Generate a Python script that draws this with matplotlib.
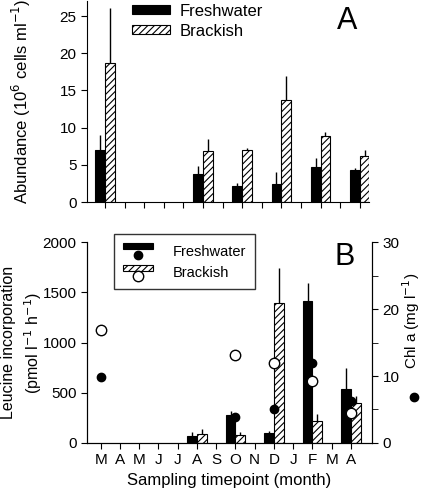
import numpy as np
import matplotlib
matplotlib.use("Agg")
import matplotlib.pyplot as plt
from matplotlib.patches import Rectangle
from matplotlib.lines import Line2D
from matplotlib.legend_handler import HandlerBase

plt.rcParams["font.family"] = ["Liberation Sans", "DejaVu Sans"]
plt.rcParams["hatch.linewidth"] = 0.8

# ── Data ─────────────────────────────────────────────────────────────────────
months = ["M", "A", "M", "J", "J", "A", "S", "O", "N", "D", "J", "F", "M", "A"]

# panel A: abundance (10^6 cells/ml), sampled months given as index into months
abund_idx = [0, 5, 7, 9, 11, 13]
abund_fresh = [6.95, 3.75, 2.2, 2.4, 4.7, 4.3]
abund_fresh_err = [2.05, 1.15, 0.3, 1.6, 1.2, 0.25]
abund_brack = [18.7, 6.9, 7.05, 13.7, 8.9, 6.2]
abund_brack_err = [7.4, 1.6, 0.25, 3.3, 0.5, 0.8]

# panel B: leucine incorporation (pmol/l/h)
leu_idx = [5, 7, 9, 11, 13]
leu_fresh = [66, 275, 100, 1416, 537]
leu_fresh_err = [44, 45, 20, 173, 213]
leu_brack = [90, 83, 1396, 216, 395]
leu_brack_err = [50, 30, 345, 76, 69]

# panel B: chl a (mg/l), right axis
chl_idx = [0, 7, 9, 11, 13]
chl_fresh = [9.85, 3.9, 5.0, 12.0, 6.2]
chl_brack = [16.8, 13.2, 12.0, 9.3, 4.5]

W = 0.5
BRACK = dict(facecolor="white", edgecolor="black", hatch="/////", linewidth=0.8)


class BarDotHandler(HandlerBase):
    # legend key: bar on top, marker underneath
    def create_artists(self, legend, orig_handle, xdescent, ydescent,
                       width, height, fontsize, trans):
        bar_kw, mfc = orig_handle
        r = Rectangle((-xdescent, -ydescent + height * 0.62), width, height * 0.36,
                      transform=trans, **bar_kw)
        m = Line2D([-xdescent + width / 2], [-ydescent + height * 0.28], marker="o",
                   markersize=7.5 if mfc == "white" else 6, markerfacecolor=mfc,
                   markeredgecolor="black", linestyle="none", transform=trans)
        return [r, m]


fig = plt.figure(figsize=(4.25, 4.96), dpi=100)
axA = fig.add_axes([0.2047, 0.5927, 0.6633, 0.405])
axB = fig.add_axes([0.2047, 0.1069, 0.6706, 0.405])

# ── Panel A ──────────────────────────────────────────────────────────────────
xa = np.array(abund_idx)
axA.bar(xa - W / 2, abund_fresh, W, color="black", edgecolor="black", linewidth=0.8,
        label="Freshwater")
axA.bar(xa + W / 2, abund_brack, W, label="Brackish", **BRACK)
axA.errorbar(xa - W / 2, abund_fresh, yerr=[np.zeros(len(xa)), abund_fresh_err],
             fmt="none", ecolor="black", elinewidth=1, capsize=0)
axA.errorbar(xa + W / 2, abund_brack, yerr=[np.zeros(len(xa)), abund_brack_err],
             fmt="none", ecolor="black", elinewidth=1, capsize=0)
axA.set_xlim(-0.92, 13.47)
axA.set_ylim(0, 27)
axA.set_yticks([0, 5, 10, 15, 20, 25])
axA.set_xticks(range(len(months)))
axA.set_xticklabels([])
axA.spines["top"].set_visible(False)
axA.spines["right"].set_visible(False)
axA.tick_params(direction="out", length=4, labelsize=11)
axA.set_ylabel("Abundance (10$^6$ cells ml$^{-1}$)", fontsize=12)
axA.yaxis.set_label_coords(-0.192, 0.5)
axA.legend(loc="upper left", bbox_to_anchor=(0.135, 1.02), frameon=False, fontsize=12,
           handlelength=2.3, handleheight=0.45, labelspacing=0.3, handletextpad=0.6,
           borderaxespad=0)
axA.text(0.922, 0.90, "A", transform=axA.transAxes, fontsize=22, ha="center", va="center")

# ── Panel B ──────────────────────────────────────────────────────────────────
xb = np.array(leu_idx)
axB.bar(xb - W / 2, leu_fresh, W, color="black", edgecolor="black", linewidth=0.8)
axB.bar(xb + W / 2, leu_brack, W, **BRACK)
axB.errorbar(xb - W / 2, leu_fresh, yerr=[np.zeros(len(xb)), leu_fresh_err],
             fmt="none", ecolor="black", elinewidth=1, capsize=0)
axB.errorbar(xb + W / 2, leu_brack, yerr=[np.zeros(len(xb)), leu_brack_err],
             fmt="none", ecolor="black", elinewidth=1, capsize=0)
axB.set_xlim(-0.71, 14.09)
axB.set_ylim(0, 2000)
axB.set_yticks([0, 500, 1000, 1500, 2000])
axB.set_xticks(range(len(months)))
axB.set_xticklabels(months, fontsize=12.5)
axB.spines["top"].set_visible(False)
axB.tick_params(direction="out", length=4, labelsize=11)
axB.set_ylabel("Leucine incorporation\n(pmol l$^{-1}$ h$^{-1}$)", fontsize=11.5,
               linespacing=1.35)
axB.yaxis.set_label_coords(-0.152, 0.5)
axB.set_xlabel("Sampling timepoint (month)", fontsize=12)
axB.text(0.905, 0.925, "B", transform=axB.transAxes, fontsize=22, ha="center", va="center")

axC = axB.twinx()
xc = np.array(chl_idx)
axC.plot(xc, chl_fresh, "o", color="black", markersize=6, zorder=5)
axC.plot(xc, chl_brack, "o", markerfacecolor="white", markeredgecolor="black",
         markersize=7.5, zorder=5)
axC.set_ylim(0, 30)
axC.set_yticks([0, 10, 20, 30])
axC.set_yticks([5, 15, 25], minor=True)
axC.spines["top"].set_visible(False)
axC.tick_params(which="both", direction="out", length=4, labelsize=11)
axC.set_ylabel("Chl a (mg l$^{-1}$)", fontsize=11)
axC.yaxis.set_label_coords(1.1, 0.61)
axC.plot([1.147], [0.229], "o", color="black", markersize=6, transform=axC.transAxes,
         clip_on=False)

leg = axB.legend([(dict(color="black", linewidth=0.8), "black"), (BRACK, "white")],
                 ["Freshwater", "Brackish"],
                 handler_map={tuple: BarDotHandler()},
                 loc="upper left", bbox_to_anchor=(0.095, 1.04), fontsize=10.5,
                 fancybox=False, edgecolor="black", handlelength=2.1, handleheight=1.35,
                 labelspacing=0.35, borderpad=0.6, handletextpad=1.3, borderaxespad=0)
leg.get_frame().set_linewidth(1.0)
leg.set_zorder(10)

fig.savefig("out.png", dpi=100)
